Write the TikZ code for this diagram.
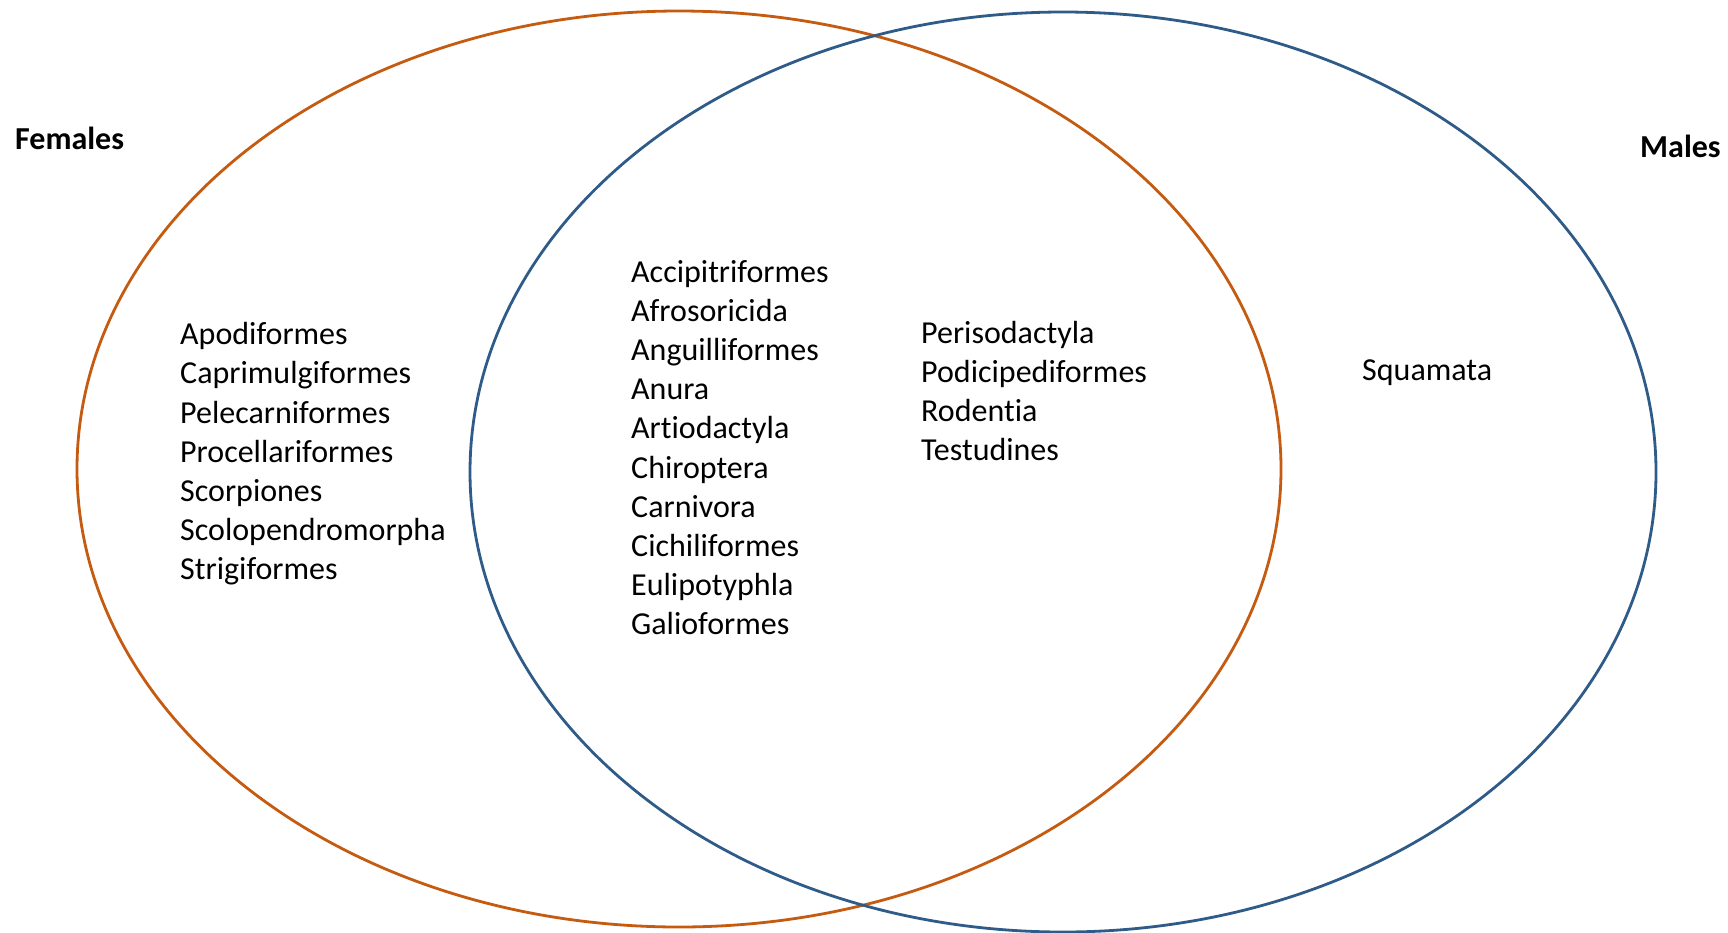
\documentclass[tikz,border=0pt]{standalone}
\usepackage{fontspec}
\setmainfont[Ligatures={NoCommon}]{Carlito}
\definecolor{fem}{HTML}{C55A11}
\definecolor{mal}{HTML}{2F5B88}
\tikzset{
  venn/.style={line width=2.8pt},
  lst/.style={anchor=west, inner sep=0pt, align=left, font=\fontsize{32}{39.2}\selectfont},
  lbl/.style={anchor=west, inner sep=0pt, font=\fontsize{32}{38}\selectfont\bfseries},
}
\begin{document}
\begin{tikzpicture}[x=1pt,y=-1pt]
\useasboundingbox (0,0) rectangle (1728,932);
\draw[venn, fem] (679,469) ellipse [x radius=602, y radius=458];
\draw[venn, mal] (1063,472) ellipse [x radius=593, y radius=460];
\node[lbl] (females) at (15,138) {Females};
\node[lbl] (males) at (1640,146) {Males};
\node[lst] (fonly) at (180,454) {Apodiformes\\Caprimulgiformes\\Pelecarniformes\\Procellariformes\\Scorpiones\\Scolopendromorpha\\Strigiformes};
\node[lst] (both) at (631,447.5) {Accipitriformes\\Afrosoricida\\Anguilliformes\\Anura\\Artiodactyla\\Chiroptera\\Carnivora\\Cichiliformes\\Eulipotyphla\\Galioformes};
\node[lst] (both2) at (921,391) {Perisodactyla\\Podicipediformes\\Rodentia\\Testudines};
\node[lst] (monly) at (1362,373) {Squamata};
\end{tikzpicture}
\end{document}
